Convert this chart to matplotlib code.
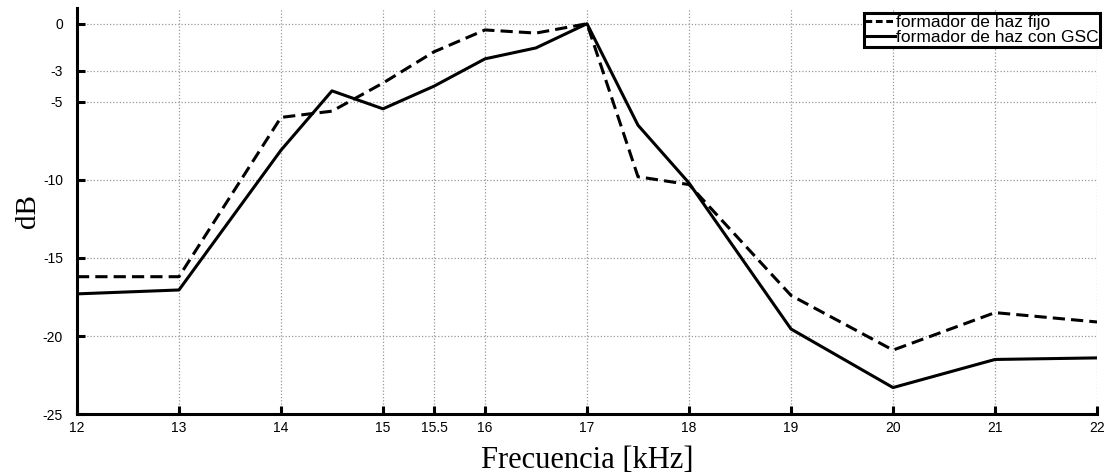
import numpy as np
import matplotlib.pyplot as plt

# frecuencias en kHz
freq = [12, 13, 14, 14.5, 15, 15.5, 16, 16.5, 17, 17.5, 18, 19, 20, 21, 22]
# formador de haz fijo (dB)
fijo = [-16.2, -16.2, -6.0, -5.6, -3.8, -1.8, -0.4, -0.6, 0.0, -9.8, -10.3, -17.4, -20.9, -18.5, -19.1]
# formador de haz con GSC (dB)
gsc = [-17.3, -17.05, -8.1, -4.3, -5.45, -4.0, -2.25, -1.55, 0.0, -6.5, -10.2, -19.55, -23.3, -21.5, -21.4]

xticks = [12, 13, 14, 15, 15.5, 16, 17, 18, 19, 20, 21, 22]
xticklabels = ['12', '13', '14', '15', '15.5', '16', '17', '18', '19', '20', '21', '22']
yticks = [-25, -20, -15, -10, -5, -3, 0]

fig = plt.figure(figsize=(11.09, 4.76), dpi=100)
ax = fig.add_axes([0.0694, 0.130, 0.9198, 0.853])

ax.plot(freq, fijo, color='black', lw=2.2, dashes=(4, 2), label='formador de haz fijo')
ax.plot(freq, gsc, color='black', lw=2.2, label='formador de haz con GSC')

ax.set_xlim(12, 22)
ax.set_ylim(-25, 1)
ax.set_xticks(xticks)
ax.set_xticklabels(xticklabels)
ax.set_yticks(yticks)
ax.set_yticklabels([str(t) for t in yticks])

for lab in ax.get_xticklabels() + ax.get_yticklabels():
    lab.set_family('Liberation Sans')
    lab.set_fontsize(10)

ax.tick_params(direction='in', length=6, width=2.2)
ax.tick_params(axis='x', pad=5)
ax.tick_params(axis='y', pad=10)
ax.grid(True, color='#999999', linestyle=(0, (1, 1.6)), linewidth=0.9)
ax.set_axisbelow(True)
for s in ['top', 'right']:
    ax.spines[s].set_visible(False)
for s in ['left', 'bottom']:
    ax.spines[s].set_linewidth(2.2)

ax.set_xlabel('Frecuencia [kHz]', family='Liberation Serif', fontsize=22, labelpad=8)
ax.set_ylabel('dB', family='Liberation Serif', fontsize=21, labelpad=1)

leg = ax.legend(loc='upper right', bbox_to_anchor=(1.003, 0.988),
                prop={'family': 'Liberation Sans', 'size': 12.5},
                handlelength=1.7, handletextpad=0.05, borderpad=0.1,
                labelspacing=0.0, fancybox=False, framealpha=1,
                borderaxespad=0)
leg.get_frame().set_edgecolor('black')
leg.get_frame().set_linewidth(2.2)
leg.get_lines()[0].set_dashes((2.2, 1.2))

fig.savefig('out.png', dpi=100)
